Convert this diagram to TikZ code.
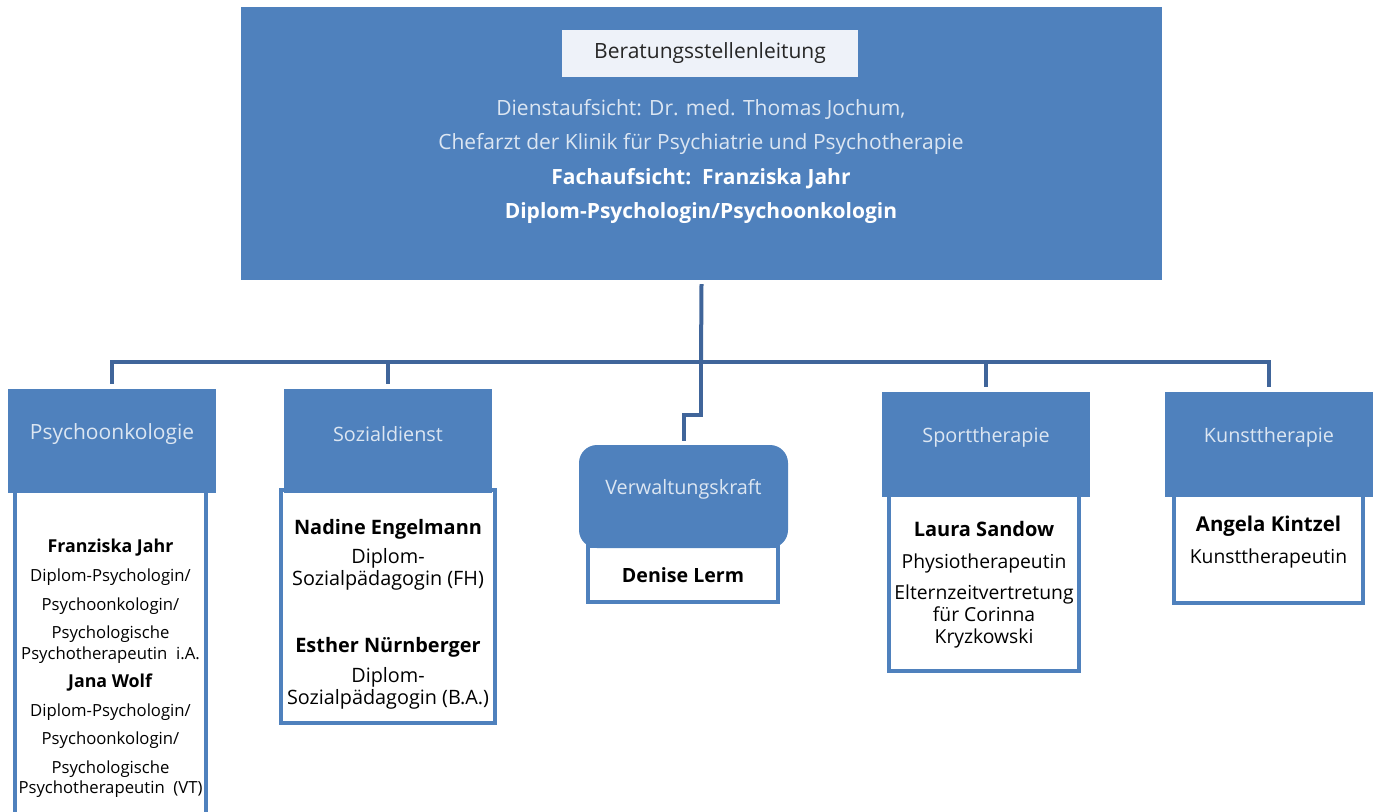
\documentclass[tikz,border=0pt]{standalone}
\usepackage{fontspec}
\setmainfont{Open Sans}

\definecolor{ocBlue}{HTML}{4F81BD}
\definecolor{ocLine}{HTML}{40659A}
\definecolor{ocPale}{HTML}{EEF2F9}
\definecolor{ocLight}{HTML}{DCE6F2}

\tikzset{
  chiefbox/.style={fill=ocBlue, draw=none, inner sep=0pt, minimum width=921pt, minimum height=273pt},
  leadbox/.style={fill=ocPale, draw=none, inner sep=0pt, minimum width=296pt, minimum height=47pt,
    text=black!85, font=\fontsize{21}{24}\selectfont},
  chieftxt/.style={align=center, inner sep=0pt, text=white, font=\fontsize{21}{34.4}\selectfont},
  headbox/.style={fill=ocBlue, draw=none, inner sep=0pt, minimum width=208pt, minimum height=104pt},
  headlabel/.style={text=ocLight, inner sep=0pt, font=\fontsize{19.8}{22}\selectfont},
  bodybox/.style={fill=white, draw=ocBlue, line width=3.5pt, inner sep=0pt},
  bodytxt/.style={align=center, inner sep=0pt, text=black},
  conn/.style={draw=ocLine, line width=4pt}
}

\begin{document}
\begin{tikzpicture}[x=1pt, y=-1pt]

  \path[use as bounding box] (0,0) rectangle (1378,811);

  %% ════ Leitung ════
  \node[chiefbox] (chief) at (701.5,143.5) {};
  \node[leadbox] (lead) at (710,53.5) {Beratungsstellenleitung};
  \node[chieftxt, anchor=north] (chiefT) at (701,99) {%
    \textcolor{ocLight}{Dienstaufsicht: Dr. med. Thomas Jochum,}\\
    \textcolor{ocLight}{Chefarzt der Klinik für Psychiatrie und Psychotherapie}\\
    \textbf{Fachaufsicht:\ \ Franziska Jahr}\\
    \textbf{Diplom-Psychologin/Psychoonkologin}};

  %% ════ Bereiche: weiße Kästen zuerst, Köpfe darüber ════
  \node[bodybox, minimum width=191pt, minimum height=330pt] (psyB) at (110.5,655) {};
  \node[bodybox, minimum width=214pt, minimum height=233pt] (sozB) at (388,606.5) {};
  \node[bodybox, minimum width=190pt, minimum height=56pt] (verwB) at (683,574) {};
  \node[bodybox, minimum width=190pt, minimum height=176pt] (sportB) at (984,583) {};
  \node[bodybox, minimum width=189pt, minimum height=108pt] (kunstB) at (1268.5,549) {};

  \node[headbox] (psyH) at (112,441) {};
  \node[headbox] (sozH) at (388,441) {};
  \node[headbox, minimum width=209pt, minimum height=103pt, rounded corners=18pt] (verwH) at (683.5,496.5) {};
  \node[headbox, minimum height=105pt] (sportH) at (986,444.5) {};
  \node[headbox, minimum height=105pt] (kunstH) at (1269,444.5) {};

  \node[headlabel, font=\fontsize{21}{22}\selectfont] (psyT) at ([yshift=7pt]psyH.center) {Psychoonkologie};
  \node[headlabel] (sozT) at ([yshift=7pt]sozH.center) {Sozialdienst};
  \node[headlabel] (verwT) at ([yshift=7pt]verwH.center) {Verwaltungskraft};
  \node[headlabel] (sportT) at ([yshift=7pt]sportH.center) {Sporttherapie};
  \node[headlabel] (kunstT) at ([yshift=7pt]kunstH.center) {Kunsttherapie};

  %% ════ Namen ════
  \node[bodytxt, anchor=north, font=\fontsize{16.7}{20.5}\selectfont] (psyN) at (110.5,539) {%
    {\fontsize{17.8}{20.5}\selectfont\textbf{Franziska Jahr}}\\[8.5pt]
    Diplom-Psychologin/\\[8.5pt]
    Psychoonkologin/\\[7.5pt]
    Psychologische\\
    Psychotherapeutin\ \ i.A.\\[7.5pt]
    {\fontsize{17.8}{20.5}\selectfont\textbf{Jana Wolf}}\\[8.5pt]
    Diplom-Psychologin/\\[7.5pt]
    Psychoonkologin/\\[8.5pt]
    Psychologische\\
    Psychotherapeutin\ \ (VT)};
  \node[bodytxt, anchor=north, font=\fontsize{19.8}{22.5}\selectfont] (sozN) at (388,519) {%
    {\fontsize{19.9}{22.5}\selectfont\textbf{Nadine Engelmann}}\\[6.5pt]
    Diplom-\\
    Sozialpädagogin (FH)\\[44pt]
    {\fontsize{19.9}{22.5}\selectfont\textbf{Esther Nürnberger}}\\[7.5pt]
    Diplom-\\
    Sozialpädagogin (B.A.)};
  \node[bodytxt, font=\fontsize{19.6}{22}\selectfont] (verwN) at (683,575) {\textbf{Denise Lerm}};
  \node[bodytxt, anchor=north, font=\fontsize{19.3}{22}\selectfont] (sportN) at (984,521) {%
    {\fontsize{20}{22}\selectfont\textbf{Laura Sandow}}\\[10pt]
    Physiotherapeutin\\[9pt]
    Elternzeitvertretung\\
    für Corinna\\
    Kryzkowski};
  \node[bodytxt, anchor=north, font=\fontsize{19.3}{22}\selectfont] (kunstN) at (1268.5,516) {%
    {\fontsize{20.4}{22}\selectfont\textbf{Angela Kintzel}}\\[10pt]
    Kunsttherapeutin};

  %% ════ Verbindungen ════
  \coordinate (bus) at (701,362);
  \coordinate (jog) at (701,415);
  \draw[conn] ([yshift=-4pt]chief.south) -- (bus);
  \draw[conn] ([yshift=5pt]psyH.north) |- (bus) -| ([yshift=5pt]kunstH.north);
  \draw[conn] ([yshift=5pt]sozH.north) -- (sozH.north |- bus);
  \draw[conn] ([yshift=5pt]sportH.north) -- (sportH.north |- bus);
  \draw[conn] (bus) -- (jog) -| ([yshift=4pt]verwH.north);
\end{tikzpicture}
\end{document}
